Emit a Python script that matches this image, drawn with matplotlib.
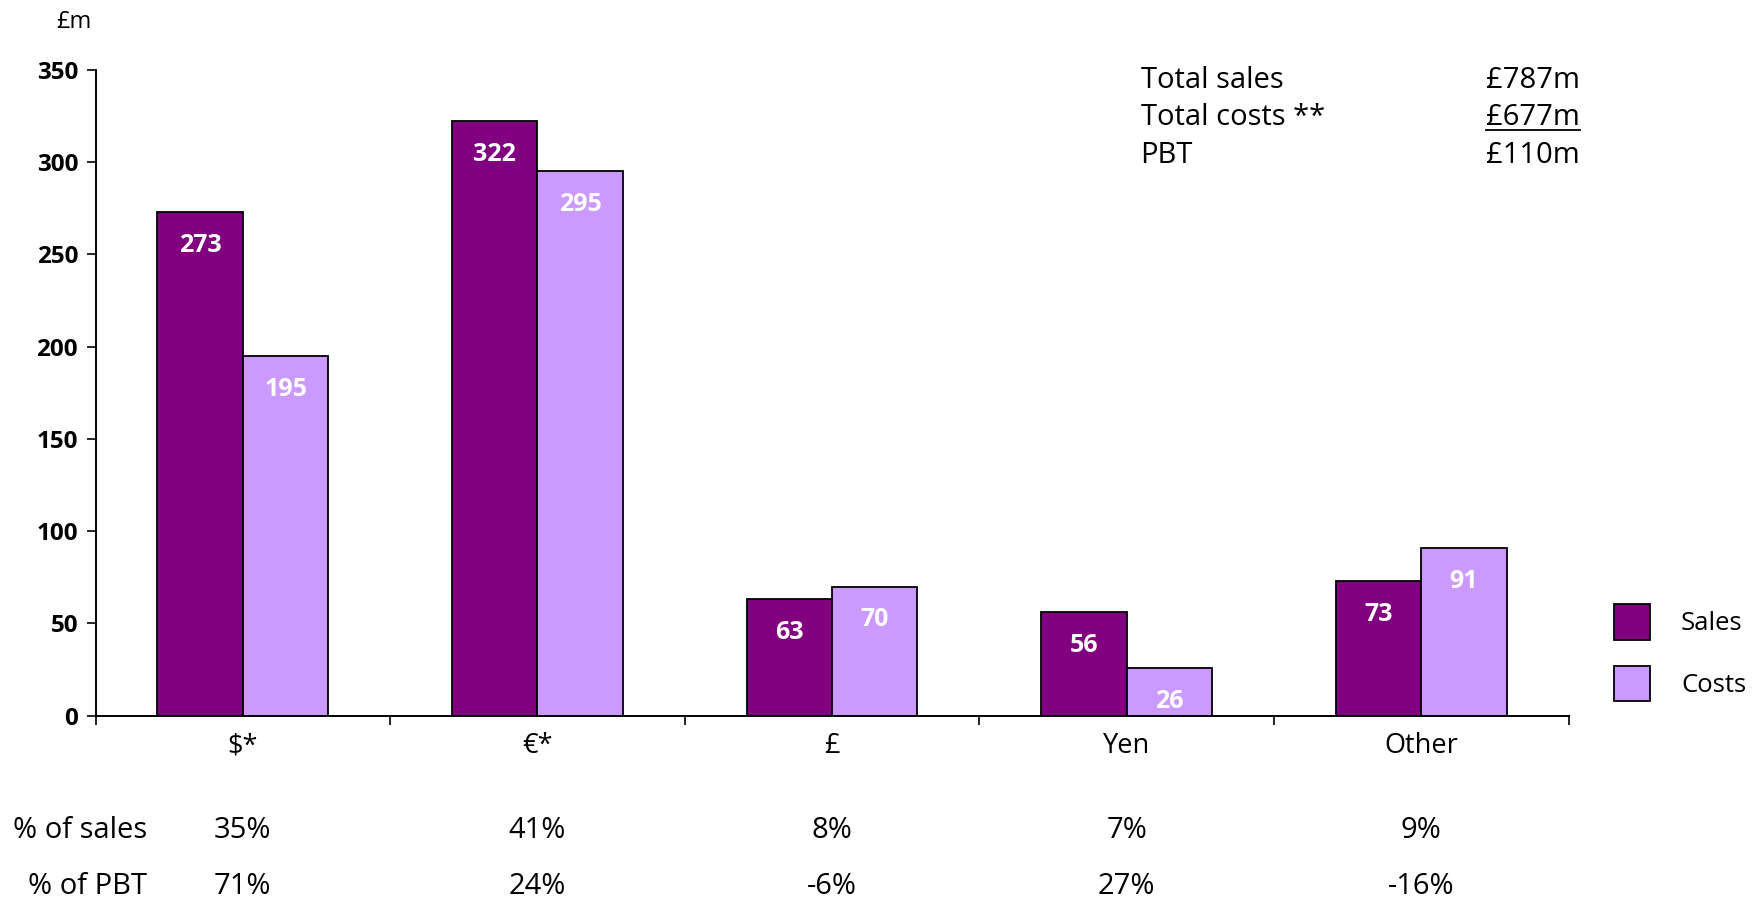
import numpy as np
import matplotlib.pyplot as plt
import matplotlib.transforms as mtransforms
from matplotlib.lines import Line2D

plt.rcParams['font.family'] = ['Open Sans', 'DejaVu Sans']

# === Data ===
categories = ['$*', '€*', '£', 'Yen', 'Other']
sales = [273, 322, 63, 56, 73]
costs = [195, 295, 70, 26, 91]
pct_sales = ['35%', '41%', '8%', '7%', '9%']
pct_pbt = ['71%', '24%', '-6%', '27%', '-16%']
summary_labels = ['Total sales', 'Total costs **', 'PBT']
summary_values = ['£787m', '£677m', '£110m']

sales_color = '#800080'
costs_color = '#CC99FF'

fig = plt.figure(figsize=(17.62, 8.99), dpi=100)
ax = fig.add_axes([0.0542, 0.2038, 0.836, 0.7187])

x = np.arange(len(categories))
w = 0.29
b1 = ax.bar(x - w / 2, sales, w, color=sales_color, edgecolor='black', linewidth=1.3, label='Sales')
b2 = ax.bar(x + w / 2, costs, w, color=costs_color, edgecolor='black', linewidth=1.3, label='Costs')

# value labels inside the bars
for bars, vals in [(b1, sales), (b2, costs)]:
    for rect, v in zip(bars, vals):
        ax.annotate(str(v), (rect.get_x() + rect.get_width() / 2, v),
                    xytext=(0, -24), textcoords='offset points',
                    ha='center', va='center', color='white',
                    fontsize=18, fontweight='bold')

ax.set_xlim(-0.5, len(categories) - 0.5)
ax.set_ylim(0, 350)
yt = np.arange(0, 351, 50)
ax.set_yticks(yt, [str(v) for v in yt], fontsize=17.5, fontweight='bold')
ax.tick_params(axis='y', direction='out', length=6.5, width=1.2, pad=6)

ax.set_xticks(x, categories, fontsize=19.5)
ax.set_xticks(np.arange(-0.5, len(categories)), minor=True)
ax.tick_params(axis='x', which='major', length=0, pad=12)
ax.tick_params(axis='x', which='minor', direction='out', length=6.5, width=1.2)

for s in ['top', 'right']:
    ax.spines[s].set_visible(False)
for s in ['left', 'bottom']:
    ax.spines[s].set_linewidth(1.4)

# legend
ax.legend(loc='center left', bbox_to_anchor=(0.903, 0.274), bbox_transform=fig.transFigure,
          frameon=False, fontsize=18.5, handlelength=1.4, handleheight=1.75,
          labelspacing=1.0, handletextpad=1.2)

# unit label
fig.text(0.032, 0.976, '£m', fontsize=17, ha='left', va='center')

# summary block
ys = [0.911, 0.8697, 0.8273]
texts = []
for lab, val, yy in zip(summary_labels, summary_values, ys):
    fig.text(0.6473, yy, lab, fontsize=21, ha='left', va='center')
    texts.append(fig.text(0.8965, yy, val, fontsize=21, ha='right', va='center'))

# bottom rows
trans = mtransforms.blended_transform_factory(ax.transData, fig.transFigure)
fig.text(0.0836, 0.076, '% of sales', fontsize=21, ha='right', va='center')
fig.text(0.0836, 0.014, '% of PBT', fontsize=21, ha='right', va='center')
for xi, ps, pp in zip(x, pct_sales, pct_pbt):
    ax.text(xi, 0.076, ps, transform=trans, fontsize=21, ha='center', va='center')
    ax.text(xi, 0.014, pp, transform=trans, fontsize=21, ha='center', va='center')

# underline under total costs value
fig.canvas.draw()
bb = texts[1].get_window_extent().transformed(fig.transFigure.inverted())
fig.add_artist(Line2D([bb.x0, bb.x1], [bb.y0 + 0.002, bb.y0 + 0.002],
                      transform=fig.transFigure, color='black', linewidth=1.3))

fig.savefig('out.png', dpi=100)
